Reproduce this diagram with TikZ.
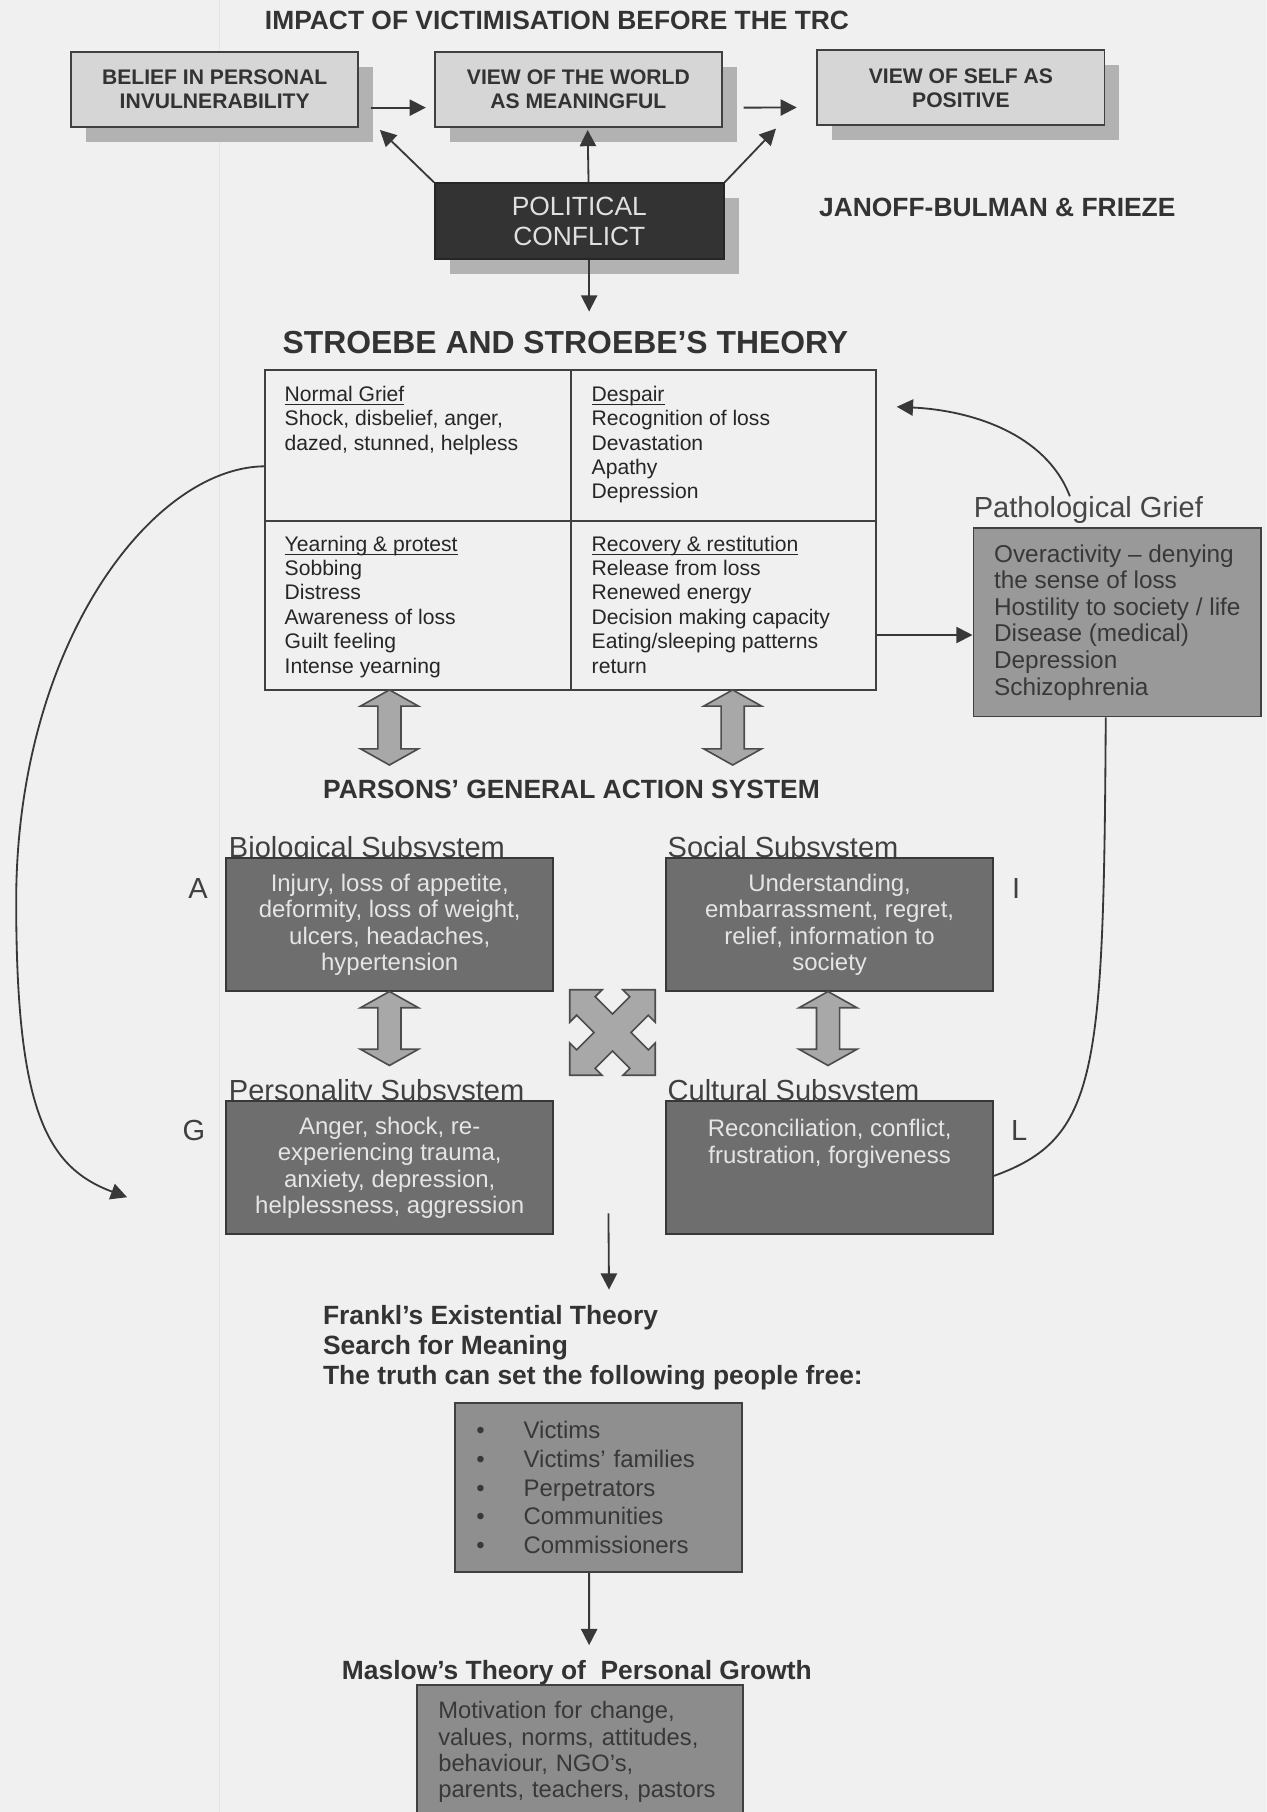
\documentclass[tikz,border=0pt]{standalone}
\usepackage{fontspec}
\setmainfont{Liberation Sans}
\usetikzlibrary{arrows.meta,calc,shadows}

\tikzset{
  link/.style={-{Triangle[length=8pt,width=8pt]}, line width=0.9pt, draw=black!78},
  tieline/.style={line width=0.9pt, draw=black!78},
  heading/.style={inner sep=0pt, text=black!80, font=\fontsize{13}{15}\selectfont\bfseries},
  bigheading/.style={inner sep=0pt, text=black!80, font=\fontsize{15.7}{18}\selectfont\bfseries},
  topbox/.style={draw=black!75, line width=0.9pt, fill=black!16, inner sep=0pt, align=center,
    minimum width=4.97cm, minimum height=1.3cm, text=black!80,
    font=\fontsize{10.4}{11.8}\selectfont\bfseries,
    drop shadow={shadow xshift=0.26cm, shadow yshift=-0.26cm, fill=black!30, draw=none, opacity=1}},
  conflictbox/.style={draw=black!85, line width=0.9pt, fill=black!80, inner sep=0pt, align=center,
    minimum width=5cm, minimum height=1.314cm, text=black!12,
    font=\fontsize{13}{14.6}\selectfont,
    drop shadow={shadow xshift=0.26cm, shadow yshift=-0.26cm, fill=black!30, draw=none, opacity=1}},
  gridbox/.style={draw=black!75, line width=1pt, inner sep=0pt, minimum width=10.582cm, minimum height=5.54cm},
  gridline/.style={draw=black!75, line width=1pt},
  cellt/.style={anchor=north west, inner sep=0pt, align=left, text=black!85, font=\fontsize{10.4}{12}\selectfont},
  pglab/.style={inner sep=0pt, text=black!72, font=\fontsize{14.3}{16}\selectfont},
  pathbox/.style={draw=black!75, line width=0.9pt, fill=black!40, inner sep=0pt, align=left,
    minimum width=4.982cm, minimum height=3.26cm, text=black!78, font=\fontsize{12}{13.1}\selectfont},
  blockarr/.style={draw=black!70, line width=0.8pt, fill=black!34},
  sublab/.style={anchor=base west, inner sep=0pt, text=black!75, font=\fontsize{14.3}{16}\selectfont},
  subbox/.style={draw=black!78, line width=0.9pt, fill=black!57, inner sep=0pt, align=center,
    minimum width=5.662cm, minimum height=2.3cm, text=black!10, font=\fontsize{11.8}{13}\selectfont},
  letter/.style={anchor=base, inner sep=0pt, text=black!75, font=\fontsize{14.3}{16}\selectfont},
  frankl/.style={anchor=north west, inner sep=0pt, align=left, text=black!80,
    font=\fontsize{13}{14.8}\selectfont\bfseries},
  listbox/.style={draw=black!75, line width=0.9pt, fill=black!44, inner xsep=0.36cm, inner ysep=0pt,
    text width=4.24cm, align=left, minimum width=4.964cm, minimum height=2.912cm,
    text=black!78, font=\fontsize{11.8}{14.1}\selectfont},
  maslowbox/.style={anchor=north west, draw=black!75, line width=0.9pt, fill=black!45,
    inner xsep=0.364cm, inner ysep=0.28cm, text width=4.91cm, align=left,
    text=black!78, font=\fontsize{11.7}{13}\selectfont}
}

% double headed block arrow: x, top y, bottom y
\newcommand{\blockupdown}[3]{%
  \draw[blockarr] (#1,#2) -- ({#1+25},{#2+14}) -- ({#1+10},{#2+14}) -- ({#1+10},{#3-14})
    -- ({#1+25},{#3-14}) -- (#1,#3) -- ({#1-25},{#3-14}) -- ({#1-10},{#3-14})
    -- ({#1-10},{#2+14}) -- ({#1-25},{#2+14}) -- cycle;}
% underline close to the baseline
\newcommand{\stagehead}[1]{\underline{\smash{#1}}\vphantom{#1}}

\begin{document}
\begin{tikzpicture}[x=0.02cm, y=-0.02cm]
\useasboundingbox (0,0) rectangle (1096,1568);
\clip (0,0) rectangle (1096,1568);
\fill[black!6] (0,0) rectangle (1096,1568);
\draw[black!11, line width=0.8pt] (190,0) -- (190,1568);

% Impact before the TRC
\node[heading, anchor=base] (impact) at (482,25.5) {IMPACT OF VICTIMISATION BEFORE THE TRC};
\node[topbox] (belief) at (185.75,77.15) {BELIEF IN PERSONAL\\INVULNERABILITY};
\node[topbox] (world) at (500.5,77.15) {VIEW OF THE WORLD\\AS MEANINGFUL};
\node[topbox] (self) at (831.5,76) {VIEW OF SELF AS\\POSITIVE};
\node[conflictbox] (conflict) at (501.3,191.4) {POLITICAL\\CONFLICT};
\node[heading, anchor=base] (janoff) at (863,187) {JANOFF-BULMAN \& FRIEZE};

\draw[link] ($(belief.east)+(10,16)$) -- ($(world.west)+(-7,16)$);
\draw[link] ($(world.east)+(18,16)$) -- ($(self.west)+(-17,17)$);
\draw[link] (conflict.north west) -- ($(belief.south east)+(18,2)$);
\draw[link] ($(conflict.north)+(8,0)$) -- ($(world.south)+(8,2)$);
\draw[link] (conflict.north east) -- ($(self.south west)+(-35,2)$);
\coordinate (stroebein) at (509.8,269.6);
\draw[link] ($(conflict.south)+(8.5,0)$) -- (stroebein);

% Stroebe and Stroebe
\node[bigheading, anchor=base] (stroebe) at (489.3,305.5) {STROEBE AND STROEBE’S THEORY};
\node[gridbox] (grid) at (493.85,458.5) {};
\draw[gridline] (grid.north) -- (grid.south);
\draw[gridline] ($(grid.west)+(0,-8)$) -- ($(grid.east)+(0,-8)$);

\node[cellt] (normal) at (246,333.7) {\stagehead{Normal Grief}\\Shock, disbelief, anger,\\dazed, stunned, helpless};
\node[cellt] (despair) at (511.7,333.7) {\stagehead{Despair}\\Recognition of loss\\Devastation\\Apathy\\Depression};
\node[cellt] (yearning) at (246,463.4) {\stagehead{Yearning \& protest}\\Sobbing\\Distress\\Awareness of loss\\Guilt feeling\\Intense yearning};
\node[cellt] (recovery) at (511.7,463.4) {\stagehead{Recovery \& restitution}\\Release from loss\\Renewed energy\\Decision making capacity\\Eating/sleeping patterns\\return};

% Pathological grief
\node[pglab, anchor=base] (pglabel) at (941.8,448) {Pathological Grief};
\node[pathbox] (pbox) at (966.85,538.5) {Overactivity – denying\\the sense of loss\\Hostility to society / life\\Disease (medical)\\Depression\\Schizophrenia};
\draw[link] ($(grid.east)+(0,91)$) -- ($(pbox.west)+(0,11)$);
\coordinate (despairin) at (776,352);
\draw[link] ([xshift=-0.32cm]pglabel.north) .. controls (905,375) and (840,355) .. (despairin);

\blockupdown{337}{597}{662}
\blockupdown{634}{597}{662}

% Parsons
\node[heading, anchor=base] (parsons) at (494.5,690.6) {PARSONS’ GENERAL ACTION SYSTEM};

\node[sublab] (biolab) at (197.8,742) {Biological Subsystem};
\node[sublab] (soclab) at (577.4,742) {Social Subsystem};
\node[sublab] (perlab) at (197.8,952) {Personality Subsystem};
\node[sublab] (cullab) at (577.4,952) {Cultural Subsystem};

\node[subbox] (bio) at (337.25,800.15) {Injury, loss of appetite,\\deformity, loss of weight,\\ulcers, headaches,\\hypertension};
\node[subbox] (social) at (717.9,800.15) {Understanding,\\embarrassment, regret,\\relief, information to\\society};
\node[subbox] (person) at (337.25,1010.5) {Anger, shock, re-\\experiencing trauma,\\anxiety, depression,\\helplessness, aggression};
\node[subbox] (cult) at (717.9,1010.5) {Reconciliation, conflict,\\frustration, forgiveness\\\mbox{}\\\mbox{}};

\node[letter] (la) at (171.3,777.8) {A};
\node[letter] (li) at (879.3,777.8) {I};
\node[letter] (lg) at (167.8,987) {G};
\node[letter] (ll) at (882,987) {L};

\blockupdown{337}{858}{922}
\blockupdown{716.5}{858}{922}

% four way arrow
\draw[blockarr, shift={(530,893.5)}] (-37,-37) -- (-9,-37) -- (-15,-31) -- (0,-16) -- (15,-31) -- (9,-37)
  -- (37,-37) -- (37,-9) -- (31,-15) -- (16,0) -- (31,15) -- (37,9)
  -- (37,37) -- (9,37) -- (15,31) -- (0,16) -- (-15,31) -- (-9,37)
  -- (-37,37) -- (-37,9) -- (-31,15) -- (-16,0) -- (-31,-15) -- (-37,-9) -- cycle;

% loops
\coordinate (gtip) at (110,1036);
\draw[link] ($(grid.west)+(0,-55)$) .. controls (130,405) and (14,560) .. (14,780)
  .. controls (14,960) and (40,1010) .. (gtip);
\draw[tieline] ([xshift=-0.2cm]pbox.south) .. controls (955,930) and (950,985) .. ([yshift=-0.14cm]cult.east);

% Frankl
\coordinate (gapout) at (526.5,1050);
\coordinate (franklin) at (527,1116);
\draw[link] (gapout) -- (franklin);
\node[frankl] (frankl) at (279.2,1128.8) {Frankl’s Existential Theory\\Search for Meaning\\The truth can set the following people free:};
\node[listbox] (people) at (518.1,1287.2) {\makebox[0.82cm][l]{\textbullet}Victims\\
  \makebox[0.82cm][l]{\textbullet}Victims’ families\\
  \makebox[0.82cm][l]{\textbullet}Perpetrators\\
  \makebox[0.82cm][l]{\textbullet}Communities\\
  \makebox[0.82cm][l]{\textbullet}Commissioners};

% Maslow
\coordinate (maslowin) at (509.8,1423.6);
\draw[link] ($(people.south)+(-8.3,0)$) -- (maslowin);
\node[heading, anchor=base] (maslow) at (499.2,1453) {Maslow’s Theory of\ \ Personal Growth};
\node[maslowbox] (growth) at (360.3,1457.5) {Motivation for change,\\values, norms, attitudes,\\behaviour, NGO’s,\\parents, teachers, pastors\\\mbox{}};

\end{tikzpicture}
\end{document}
